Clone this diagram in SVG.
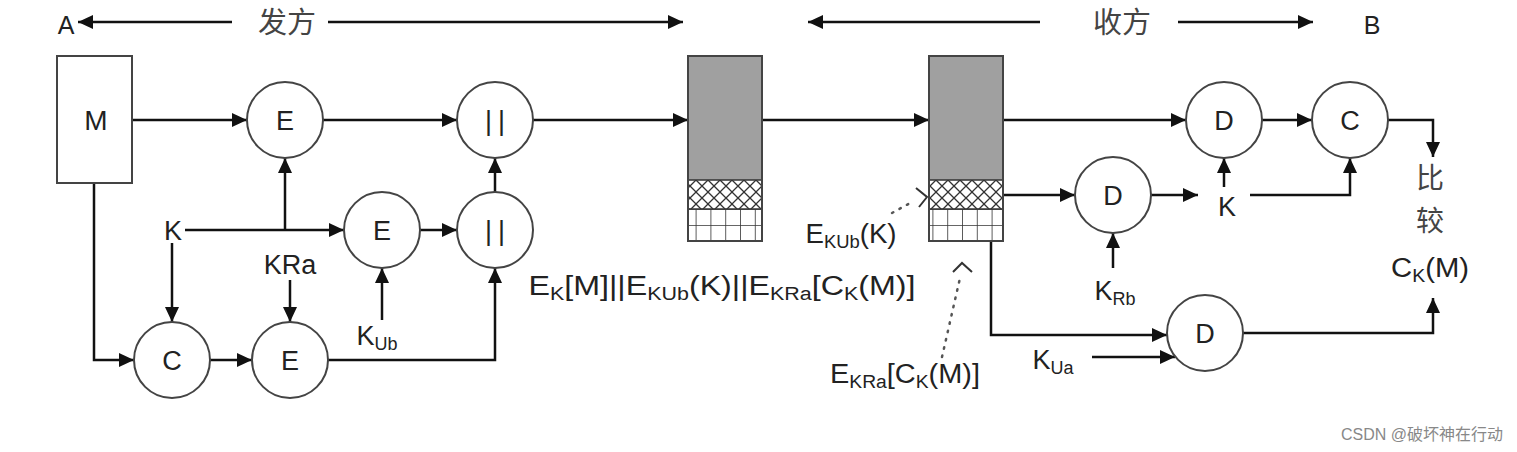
<svg xmlns="http://www.w3.org/2000/svg" width="1517" height="452" viewBox="0 0 1517 452">
<style>
text{font-family:"Liberation Sans","Noto Sans CJK SC",sans-serif;fill:#222;}
.lbl{font-size:27px;text-anchor:middle;}
.sub{font-size:18px;}
.bars{letter-spacing:6px;}
.cn{font-family:"Noto Sans CJK SC",sans-serif;font-size:28px;text-anchor:middle;fill:#444;}
.node{fill:#fff;stroke:#444;stroke-width:2;}
.ln{fill:none;stroke:#111;stroke-width:2.5;}
.dot{fill:none;stroke:#555;stroke-width:2.5;stroke-dasharray:1.5 7;stroke-linecap:round;}
.oh{fill:none;stroke:#333;stroke-width:2;}
</style>
<defs>
<marker id="arr" markerUnits="userSpaceOnUse" markerWidth="16" markerHeight="14" refX="15" refY="7" orient="auto">
<path d="M0,0 L15,7 L0,14 z" fill="#111"/>
</marker>
<pattern id="xh" patternUnits="userSpaceOnUse" width="12" height="12">
<rect width="12" height="12" fill="#fff"/>
<path d="M0,0 L12,12 M12,0 L0,12" stroke="#333" stroke-width="1.3"/>
</pattern>
<pattern id="grid" patternUnits="userSpaceOnUse" x="0" y="209" width="14.8" height="16">
<rect width="14.8" height="16" fill="#fff"/>
<path d="M0,0 H14.8 M0,0 V16" stroke="#333" stroke-width="1.6"/>
</pattern>
</defs>

<g id="header">
<text x="66" y="34" style="font-size:25px;text-anchor:middle">A</text>
<text x="1372" y="34" style="font-size:25px;text-anchor:middle">B</text>
<text x="287" y="33" class="cn" style="font-size:29px">发方</text>
<text x="1122" y="33" class="cn" style="font-size:29px">收方</text>
</g>

<g id="connectors">
<path class="ln" d="M232,22 H78" marker-end="url(#arr)"/>
<path class="ln" d="M328,22 H683" marker-end="url(#arr)"/>
<path class="ln" d="M1040,22 H808" marker-end="url(#arr)"/>
<path class="ln" d="M1178,22 H1313" marker-end="url(#arr)"/>

<path class="ln" d="M132,120 H247" marker-end="url(#arr)"/>
<path class="ln" d="M323,120 H457" marker-end="url(#arr)"/>
<path class="ln" d="M533,120 H688" marker-end="url(#arr)"/>
<path class="ln" d="M762,120 H929" marker-end="url(#arr)"/>
<path class="ln" d="M1003,120 H1186" marker-end="url(#arr)"/>
<path class="ln" d="M1262,120 H1312" marker-end="url(#arr)"/>
<path class="ln" d="M1388,120 H1433 V157" marker-end="url(#arr)"/>
<path class="ln" d="M185,230 H344" marker-end="url(#arr)"/>
<path class="ln" d="M285,230 V158" marker-end="url(#arr)"/>
<path class="ln" d="M172,243 V322" marker-end="url(#arr)"/>
<path class="ln" d="M94,183 V360 H134" marker-end="url(#arr)"/>
<path class="ln" d="M210,360 H252" marker-end="url(#arr)"/>
<path class="ln" d="M290,280 V322" marker-end="url(#arr)"/>
<path class="ln" d="M382,320 V268" marker-end="url(#arr)"/>
<path class="ln" d="M420,230 H457" marker-end="url(#arr)"/>
<path class="ln" d="M495,192 V158" marker-end="url(#arr)"/>
<path class="ln" d="M328,360 H495 V268" marker-end="url(#arr)"/>
<path class="ln" d="M1003,195 H1075" marker-end="url(#arr)"/>
<path class="ln" d="M1151,195 H1198" marker-end="url(#arr)"/>
<path class="ln" d="M1224,187 V158" marker-end="url(#arr)"/>
<path class="ln" d="M1250,195 H1350 V158" marker-end="url(#arr)"/>
<path class="ln" d="M1113,268 V233" marker-end="url(#arr)"/>
<path class="ln" d="M991,241 V335 H1167" marker-end="url(#arr)"/>
<path class="ln" d="M1092,357 H1175" marker-end="url(#arr)"/>
<path class="ln" d="M1243,333 H1433 V298" marker-end="url(#arr)"/>

<path class="dot" d="M892,213 L912,202"/>
<path class="oh" d="M916,188 L927,197 L919,207"/>
<path class="dot" d="M942,357 L960,278"/>
<path class="oh" d="M953,272 L962,263 L972,272"/>
</g>

<g id="node-M">
<rect x="57" y="56" width="75" height="127" class="node"/>
<text x="96" y="130" class="lbl" style="font-size:28px">M</text>
</g>
<g id="node-E1"><circle cx="285" cy="120" r="38" class="node"/><text x="285" y="130" class="lbl">E</text></g>
<g id="node-cat1"><circle cx="495" cy="120" r="38" class="node"/><text x="498" y="130" class="lbl bars">||</text></g>
<g id="node-E2"><circle cx="382" cy="230" r="38" class="node"/><text x="382" y="240" class="lbl">E</text></g>
<g id="node-cat2"><circle cx="495" cy="230" r="38" class="node"/><text x="498" y="240" class="lbl bars">||</text></g>
<g id="node-C1"><circle cx="172" cy="360" r="38" class="node"/><text x="172" y="370" class="lbl">C</text></g>
<g id="node-E3"><circle cx="290" cy="360" r="38" class="node"/><text x="290" y="370" class="lbl">E</text></g>

<g id="node-box1">
<rect x="688" y="56" width="74" height="124" fill="#a0a0a0"/>
<rect x="688" y="180" width="74" height="29" fill="url(#xh)"/>
<rect x="688" y="209" width="74" height="32" fill="url(#grid)"/>
<path d="M688,180 H762 M688,209 H762" stroke="#333" stroke-width="1.5"/>
<rect x="688" y="56" width="74" height="185" fill="none" stroke="#444" stroke-width="2"/>
</g>
<g id="node-box2">
<rect x="929" y="56" width="74" height="124" fill="#a0a0a0"/>
<rect x="929" y="180" width="74" height="29" fill="url(#xh)"/>
<rect x="929" y="209" width="74" height="32" fill="url(#grid)"/>
<path d="M929,180 H1003 M929,209 H1003" stroke="#333" stroke-width="1.5"/>
<rect x="929" y="56" width="74" height="185" fill="none" stroke="#444" stroke-width="2"/>
</g>

<g id="node-D1"><circle cx="1224" cy="120" r="38" class="node"/><text x="1224" y="130" class="lbl">D</text></g>
<g id="node-C2"><circle cx="1350" cy="120" r="38" class="node"/><text x="1350" y="130" class="lbl">C</text></g>
<g id="node-D2"><circle cx="1113" cy="195" r="38" class="node"/><text x="1113" y="205" class="lbl">D</text></g>
<g id="node-D3"><circle cx="1205" cy="333" r="38" class="node"/><text x="1205" y="343" class="lbl">D</text></g>

<g id="labels">
<text x="173" y="240" class="lbl">K</text>
<text x="290" y="274" class="lbl">KRa</text>
<text x="377" y="345" class="lbl">K<tspan class="sub" dy="5">Ub</tspan></text>
<text x="1227" y="216" class="lbl">K</text>
<text x="1115" y="300" class="lbl">K<tspan class="sub" dy="5">Rb</tspan></text>
<text x="1053" y="369" class="lbl">K<tspan class="sub" dy="5">Ua</tspan></text>
<text x="1430" y="188" class="cn">比</text>
<text x="1430" y="231" class="cn">较</text>
<text x="1430" y="277" class="lbl" textLength="78" lengthAdjust="spacingAndGlyphs">C<tspan class="sub" dy="5">K</tspan><tspan dy="-5">(M)</tspan></text>
<text x="851" y="243" class="lbl" textLength="91" lengthAdjust="spacingAndGlyphs">E<tspan class="sub" dy="5">KUb</tspan><tspan dy="-5">(K)</tspan></text>
<text x="905" y="383" class="lbl" textLength="150" lengthAdjust="spacingAndGlyphs">E<tspan class="sub" dy="5">KRa</tspan><tspan dy="-5">[C</tspan><tspan class="sub" dy="5">K</tspan><tspan dy="-5">(M)]</tspan></text>
<text x="722" y="295" class="lbl" textLength="387" lengthAdjust="spacingAndGlyphs">E<tspan class="sub" dy="5">K</tspan><tspan dy="-5">[M]||E</tspan><tspan class="sub" dy="5">KUb</tspan><tspan dy="-5">(K)||E</tspan><tspan class="sub" dy="5">KRa</tspan><tspan dy="-5">[C</tspan><tspan class="sub" dy="5">K</tspan><tspan dy="-5">(M)]</tspan></text>
<text x="1503" y="440" style="font-size:16px;text-anchor:end;fill:#888">CSDN @破坏神在行动</text>
</g>
</svg>
